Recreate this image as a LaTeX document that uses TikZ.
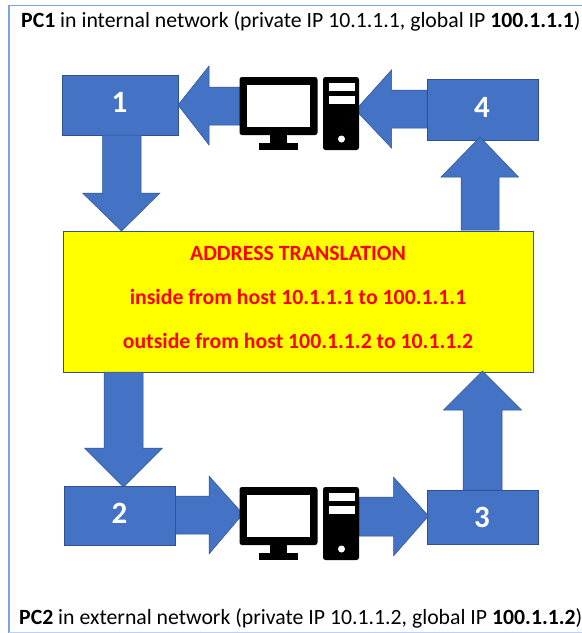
\documentclass[tikz,border=0pt]{standalone}
\usepackage{fontspec}
\setmainfont[Ligatures=NoCommon]{Carlito}
\definecolor{blockblue}{HTML}{4472C4}
\definecolor{blockedge}{HTML}{2F528F}
\definecolor{frameblue}{HTML}{7FA3DC}
\definecolor{paleframe}{HTML}{BFD1EE}
\definecolor{xlateyellow}{HTML}{FFFF00}
\definecolor{xlatered}{HTML}{FF0000}
\tikzset{
  x=1pt,y=-1pt,
  blockbox/.style={fill=blockblue,draw=blockedge,line width=.8pt,inner sep=0pt},
  blockarrow/.style={fill=blockblue,draw=blockedge,line width=.5pt,line join=miter},
  numlabel/.style={text=white,font=\fontsize{31}{33}\selectfont\bfseries,inner sep=0pt},
  redline/.style={text=xlatered,font=\fontsize{21.75}{24}\selectfont\bfseries,inner sep=0pt},
  caption/.style={anchor=west,text=black,inner sep=0pt,font=\fontsize{21.75}{24}\selectfont},
  pcpart/.style={fill=black,draw=none},
  pchole/.style={fill=white,draw=none},
  pics/pcicon/.style={code={
    \fill[pcpart,rounded corners=2.5pt] (239.5,77) rectangle (317.5,135);
    \fill[pchole] (247,85) rectangle (310,127);
    \fill[pcpart] (270,135) rectangle (286.5,143);
    \fill[pcpart] (258.5,143) rectangle (298,150);
    \fill[pcpart,rounded corners=2.5pt] (323,77) rectangle (359,150);
    \fill[pchole] (328.5,83) rectangle (354.5,90.7);
    \fill[pchole] (328.5,95.7) rectangle (354.5,103.7);
    \fill[pchole] (341.5,139) circle (3.5);
  }}
}
\begin{document}
\begin{tikzpicture}
\useasboundingbox (0,0) rectangle (582,633);
\fill[white] (0,0) rectangle (582,633);
% frame
\draw[frameblue,line width=1.2pt] (582,5.5) -- (9,5.5) -- (9,633);
\draw[paleframe,line width=1pt] (9,632.5) -- (582,632.5);
% boxes
\node[blockbox,minimum width=116pt,minimum height=60pt] (b1) at (120,105) {};
\node[blockbox,minimum width=111pt,minimum height=61pt] (b4) at (482.5,109.5) {};
\node[blockbox,minimum width=111pt,minimum height=59pt] (b2) at (120,515.5) {};
\node[blockbox,minimum width=111pt,minimum height=54pt] (b3) at (482.5,517) {};
\node[fill=xlateyellow,draw=blockedge,line width=.8pt,minimum width=470pt,minimum height=141pt,inner sep=0pt] (xlate) at (298,301.5) {};
% block arrows
\draw[blockarrow] (427,90) -- (391.5,90) -- (391.5,70) -- (355.5,110) -- (391.5,148) -- (391.5,128) -- (427,128) -- cycle;
\draw[blockarrow] (240,87) -- (209,87) -- (209,66) -- (178,105) -- (209,145) -- (209,125) -- (240,125) -- cycle;
\draw[blockarrow] (102.5,135) -- (102.5,193) -- (82.5,193) -- (121.5,231) -- (160,193) -- (141,193) -- (141,135) -- cycle;
\draw[blockarrow] (461,230) -- (461,177) -- (441,177) -- (480,137) -- (518.5,177) -- (499,177) -- (499,230) -- cycle;
\draw[blockarrow] (104,372) -- (104,448) -- (84.5,448) -- (123.5,487) -- (162.5,448) -- (143,448) -- (143,372) -- cycle;
\draw[blockarrow] (463,490) -- (463,410) -- (443.5,410) -- (482.5,371) -- (521.5,410) -- (502,410) -- (502,490) -- cycle;
\draw[blockarrow] (175.5,496) -- (209,496) -- (209,476) -- (243,514) -- (209,554) -- (209,534) -- (175.5,534) -- cycle;
\draw[blockarrow] (359,497) -- (393.5,497) -- (393.5,477) -- (428.5,516) -- (393.5,556) -- (393.5,536) -- (359,536) -- cycle;
% computers
\pic {pcicon};
\pic[yshift=-410pt] {pcicon};
% labels
\node[numlabel] (n1) at (119.5,102) {1};
\node[numlabel] (n4) at (482,107) {4};
\node[numlabel] (n2) at (119.5,513) {2};
\node[numlabel] (n3) at (482,517) {3};
\node[redline] (t1) at (298,253) {ADDRESS TRANSLATION};
\node[redline] (t2) at (298,297) {inside from host 10.1.1.1 to 100.1.1.1};
\node[redline] (t3) at (298,341) {outside from host 100.1.1.2 to 10.1.1.2};
\node[caption] (c1) at (21,21) {\textbf{PC1} in internal network (private IP 10.1.1.1, global IP \textbf{100.1.1.1})};
\node[caption] (c2) at (19,618) {\textbf{PC2} in external network (private IP 10.1.1.2, global IP \textbf{100.1.1.2})};
\end{tikzpicture}
\end{document}
